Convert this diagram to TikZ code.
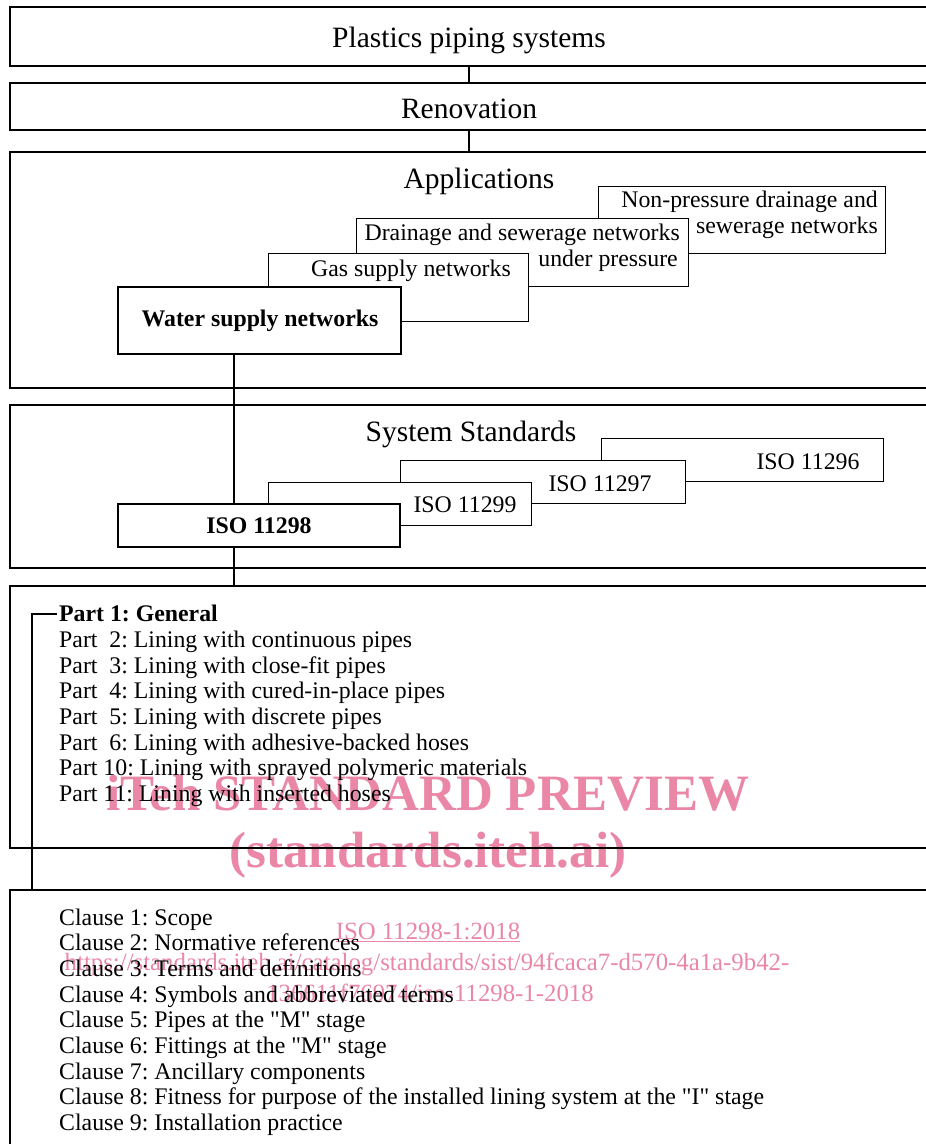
\documentclass[tikz,border=0pt]{standalone}
\usepackage{fontspec}
\setmainfont{Liberation Serif}[Ligatures=TeXOff]
\usetikzlibrary{calc}
\definecolor{wm}{RGB}{234,135,166}
\frenchspacing
\begin{document}
\begin{tikzpicture}[x=1pt,y=-1pt,
  outer/.style={draw, line width=1.6pt, inner sep=0pt, outer sep=0pt, anchor=north west},
  sub/.style={draw, fill=white, line width=1pt, inner sep=0pt, outer sep=0pt, anchor=north west},
  main/.style={draw, fill=white, line width=2.4pt, inner sep=0pt, outer sep=0pt, anchor=north west},
  conn/.style={line width=2pt},
  title/.style={inner sep=0pt, font=\fontsize{29.5}{34}\selectfont\frenchspacing},
  txt/.style={inner sep=0pt, font=\fontsize{23.8}{26}\selectfont\frenchspacing},
  btxt/.style={inner sep=0pt, font=\fontsize{23.8}{26}\selectfont\bfseries\frenchspacing},
  item/.style={inner sep=0pt, anchor=base west, font=\fontsize{23.8}{26}\selectfont\frenchspacing},
  wmb/.style={inner sep=0pt, anchor=base, text=wm, font=\fontsize{51}{56}\selectfont\bfseries},
  wmr/.style={inner sep=0pt, anchor=base, text=wm, font=\fontsize{24.8}{28}\selectfont}
]
\useasboundingbox (0,0) rectangle (926,1144);
\clip (0,0) rectangle (926,1144);

% watermark (behind everything)
\node[wmb] (wm1) at (428,810) {iTeh STANDARD PREVIEW};
\node[wmb] (wm2) at (428,867) {(standards.iteh.ai)};
\node[wmr] (wm3) at (428,939) {\underline{ISO 11298-1:2018}};
\node[wmr] (wm4) at (427,970) {https://standards.iteh.ai/catalog/standards/sist/94fcaca7-d570-4a1a-9b42-};
\node[wmr] (wm5) at (430,1001) {136611f76974/iso-11298-1-2018};

% outer boxes
\node[outer, minimum width=930pt, minimum height=59pt] (top) at (10,7) {};
\node[outer, minimum width=930pt, minimum height=47pt] (reno) at (10,83) {};
\node[outer, minimum width=930pt, minimum height=236pt] (app) at (10,152) {};
\node[outer, minimum width=930pt, minimum height=163pt] (sys) at (10,405) {};
\node[outer, minimum width=930pt, minimum height=262pt] (parts) at (10,586) {};
\node[outer, minimum width=930pt, minimum height=270pt] (clauses) at (10,890) {};

\node[title] (toptxt) at (469,40) {Plastics piping systems};
\node[title] (renotxt) at (469,109) {Renovation};
\node[title] (apptxt) at (479,181) {Applications};
\node[title] (systxt) at (471,434) {System Standards};

% connectors between outer boxes
\coordinate (cx1) at (469,0);
\coordinate (cx2) at (234,0);
\coordinate (cx3) at (32,0);
\draw[conn] (top.south -| cx1) -- (reno.north -| cx1);
\draw[conn] (reno.south -| cx1) -- (app.north -| cx1);

% applications stack
\node[sub, minimum width=287pt, minimum height=67pt] (nonp) at (598,186) {};
\node[txt, anchor=east] (nonpt1) at (878,202) {Non-pressure drainage and};
\node[txt, anchor=east] (nonpt2) at (878,228) {sewerage networks};
\node[sub, minimum width=332pt, minimum height=68pt] (drain) at (356,218) {};
\node[txt, anchor=east] (draint1) at (680,235) {Drainage and sewerage networks};
\node[txt, anchor=east] (draint2) at (678,261) {under pressure};
\node[sub, minimum width=260pt, minimum height=68pt] (gas) at (268,253) {};
\node[txt, anchor=east] (gast) at (511,271) {Gas supply networks};
\node[main, minimum width=283pt, minimum height=67pt] (water) at (118,287) {};
\node[btxt] (watert) at (260,321) {Water supply networks};

% system standards stack
\node[sub, minimum width=282pt, minimum height=43pt] (i96) at (601,438) {};
\node[txt] (i96t) at (808,462) {ISO 11296};
\node[sub, minimum width=285pt, minimum height=43pt] (i97) at (400,460) {};
\node[txt] (i97t) at (600,484) {ISO 11297};
\node[sub, minimum width=263pt, minimum height=43pt] (i99) at (268,482) {};
\node[txt] (i99t) at (465,505) {ISO 11299};
\node[main, minimum width=282pt, minimum height=43pt] (i98) at (118,504) {};
\node[btxt] (i98t) at (259,526) {ISO 11298};

\draw[conn] (water.south -| cx2) -- (i98.north -| cx2);
\draw[conn] (i98.south -| cx2) -- (parts.north -| cx2);

% parts list
\node[item, font=\fontsize{23.8}{26}\selectfont\bfseries\frenchspacing] (p1) at (59,621.7) {Part 1: General};
\node[item] (p2) at (59,647.4) {Part\ \ 2: Lining with continuous pipes};
\node[item] (p3) at (59,673.1) {Part\ \ 3: Lining with close-fit pipes};
\node[item] (p4) at (59,698.8) {Part\ \ 4: Lining with cured-in-place pipes};
\node[item] (p5) at (59,724.5) {Part\ \ 5: Lining with discrete pipes};
\node[item] (p6) at (59,750.2) {Part\ \ 6: Lining with adhesive-backed hoses};
\node[item] (p10) at (59,775.9) {Part 10: Lining with sprayed polymeric materials};
\node[item] (p11) at (59,801.6) {Part 11: Lining with inserted hoses};

\draw[conn] ($(p1.west)+(-2,0)$) -| (clauses.north -| cx3);

% clauses list
\node[item] (c1) at (59,925) {Clause 1: Scope};
\node[item] (c2) at (59,950.7) {Clause 2: Normative references};
\node[item] (c3) at (59,976.4) {Clause 3: Terms and definitions};
\node[item] (c4) at (59,1002.1) {Clause 4: Symbols and abbreviated terms};
\node[item] (c5) at (59,1027.8) {Clause 5: Pipes at the "M" stage};
\node[item] (c6) at (59,1053.5) {Clause 6: Fittings at the "M" stage};
\node[item] (c7) at (59,1079.2) {Clause 7: Ancillary components};
\node[item] (c8) at (59,1104.9) {Clause 8: Fitness for purpose of the installed lining system at the "I" stage};
\node[item] (c9) at (59,1130.6) {Clause 9: Installation practice};
\end{tikzpicture}
\end{document}
